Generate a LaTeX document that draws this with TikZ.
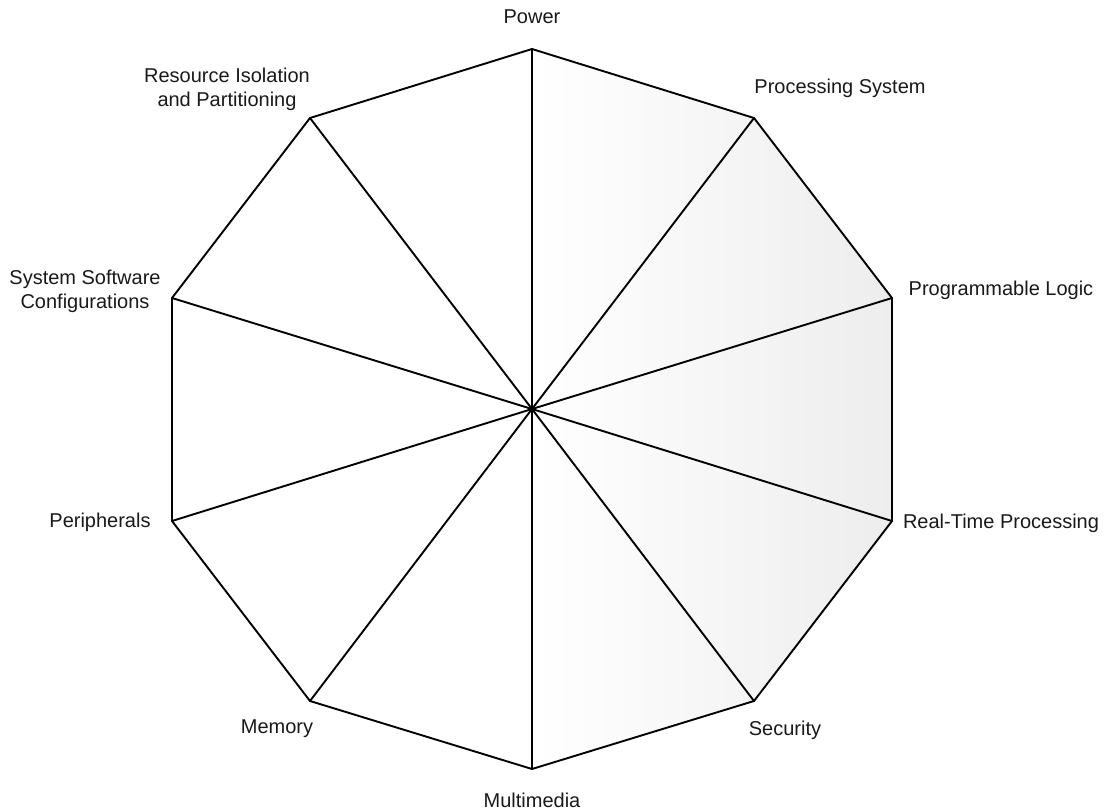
\documentclass[tikz,border=0pt]{standalone}
\usepackage{fontspec}
\setmainfont{Liberation Sans}
\begin{document}
\begin{tikzpicture}[x=1pt,y=-1pt,
  lbl/.style={font=\fontsize{20}{24}\selectfont, text=black!90, align=center, inner sep=0pt},
  edge/.style={line width=1.9pt, black, line join=miter},
  spoke/.style={line width=1.9pt, black, line cap=round}]
\useasboundingbox (0,0) rectangle (1104,811);
\coordinate (c) at (532,409);
\coordinate (v0) at (532,49);
\coordinate (v1) at (754,118);
\coordinate (v2) at (892,298);
\coordinate (v3) at (892,521);
\coordinate (v4) at (754,701);
\coordinate (v5) at (532,769);
\coordinate (v6) at (310,701);
\coordinate (v7) at (172,521);
\coordinate (v8) at (172,298);
\coordinate (v9) at (310,118);
% right half shading
\shade[left color=white, right color=black!7] (v0) -- (v1) -- (v2) -- (v3) -- (v4) -- (v5) -- cycle;
% spokes
\foreach \i in {0,...,9} { \draw[spoke] (c) -- (v\i); }
% outline
\draw[edge] (v0) -- (v1) -- (v2) -- (v3) -- (v4) -- (v5) -- (v6) -- (v7) -- (v8) -- (v9) -- cycle;
% labels
\node[lbl] (power) at (532,17) {Power};
\node[lbl] (ps) at (840,88) {Processing System};
\node[lbl] (pl) at (1001,290) {Programmable Logic};
\node[lbl] (rt) at (1001,523) {Real-Time Processing};
\node[lbl] (sec) at (785,730) {Security};
\node[lbl] (mm) at (532,800) {Multimedia};
\node[lbl] (mem) at (277,729) {Memory};
\node[lbl] (per) at (100,522) {Peripherals};
\node[lbl] (ssc) at (85,291) {System Software\\Configurations};
\node[lbl] (rip) at (227,89) {Resource Isolation\\and Partitioning};
\end{tikzpicture}
\end{document}
